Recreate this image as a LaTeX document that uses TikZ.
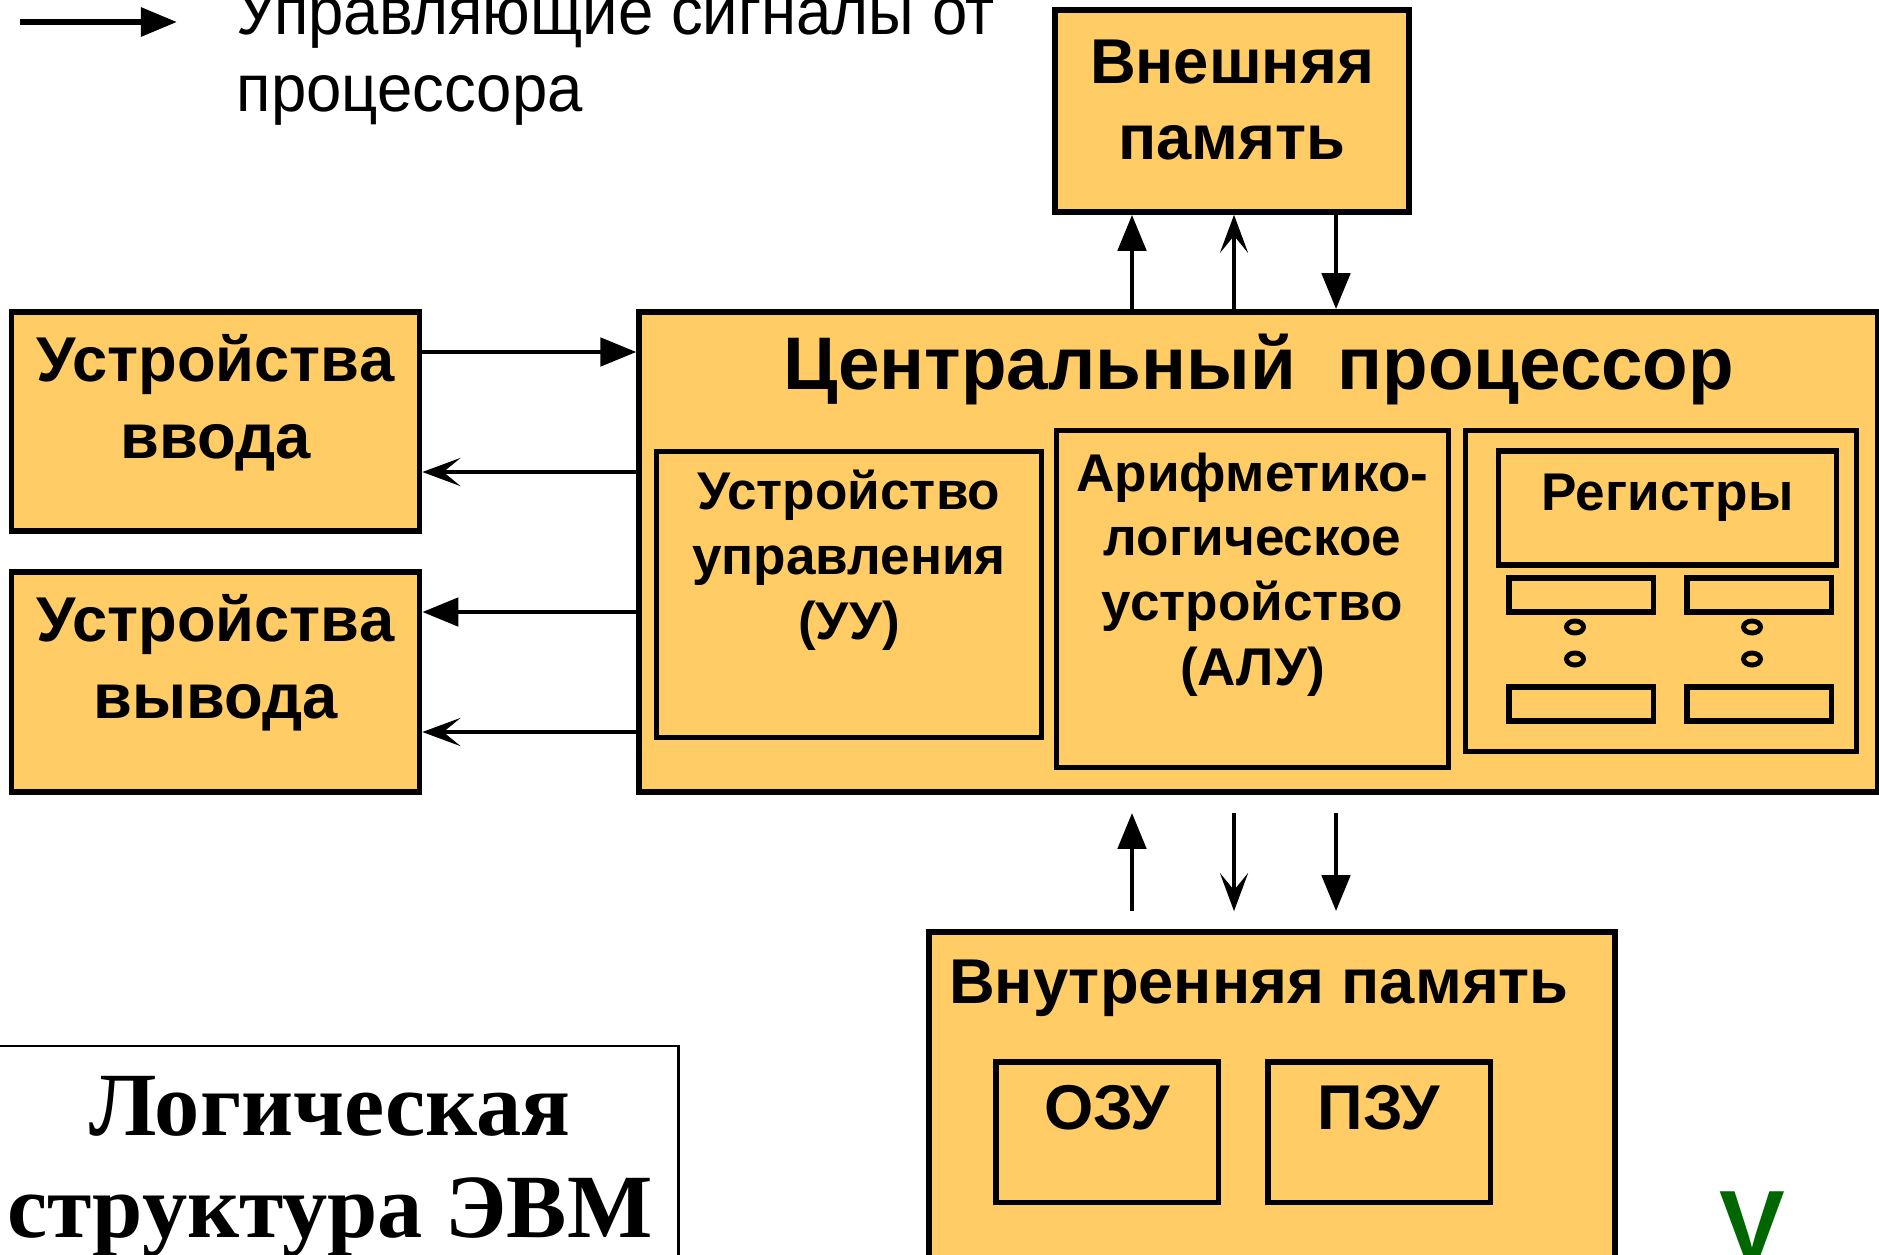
\documentclass[tikz,border=0pt]{standalone}
\usepackage{fontspec}
\setmainfont{Liberation Sans}
\newfontfamily\legfont[FakeStretch=0.95]{Liberation Sans}
\newfontfamily\headfont{Liberation Serif}
\usetikzlibrary{arrows.meta,positioning}

\definecolor{unitfill}{RGB}{255,204,102}
\definecolor{markgreen}{RGB}{0,102,0}

\tikzset{
  unit/.style={draw, line width=1.55pt, fill=unitfill, inner sep=0pt},
  cell/.style={draw, line width=1.45pt, inner sep=0pt},
  bigtxt/.style={font=\bfseries\fontsize{18}{21.8}\selectfont, align=center, inner sep=0pt},
  cputxt/.style={font=\bfseries\fontsize{21.2}{24}\selectfont, inner sep=0pt},
  smalltxt/.style={font=\bfseries\fontsize{15.1}{18.4}\selectfont, align=center, inner sep=0pt},
  sig/.style={line width=1.4pt, -{Triangle[length=0.36cm, width=0.28cm]}},
  dat/.style={line width=1.4pt, -{Stealth[length=0.38cm, width=0.28cm, inset=0.17cm]}},
}

\begin{document}
\begin{tikzpicture}[x=0.01cm, y=-0.01cm]
  \useasboundingbox (0,0) rectangle (1879,1254);

  % Define nodes
  \node[unit, minimum width=3.54cm, minimum height=2.02cm]  (ext) at (1232,111) {};
  \node[unit, minimum width=12.38cm, minimum height=4.80cm] (cpu) at (1258.5,552) {};
  \node[unit, minimum width=4.08cm, minimum height=2.19cm]  (in)  at (215.5,421.5) {};
  \node[unit, minimum width=4.08cm, minimum height=2.20cm]  (out) at (215.5,682) {};
  \node[cell, minimum width=3.84cm, minimum height=2.85cm]  (uu)   at (849,594.5) {};
  \node[cell, minimum width=3.91cm, minimum height=3.36cm]  (alu)  at (1252.5,599) {};
  \node[cell, minimum width=3.90cm, minimum height=3.20cm]  (regs) at (1661,591) {};
  \node[cell, minimum width=3.38cm, minimum height=1.14cm]  (rname) at (1667.5,508) {};
  \node[cell, minimum width=1.44cm, minimum height=0.34cm]  (r1) at (1581,595) {};
  \node[cell, minimum width=1.44cm, minimum height=0.34cm]  (r2) at (1759,595) {};
  \node[cell, minimum width=1.44cm, minimum height=0.34cm]  (r3) at (1581,704) {};
  \node[cell, minimum width=1.44cm, minimum height=0.34cm]  (r4) at (1759,704) {};
  \node[unit, minimum width=6.86cm, minimum height=3.40cm]  (mem) at (1272,1102) {};
  \node[cell, minimum width=2.22cm, minimum height=1.40cm]  (ozu) at (1107,1132) {};
  \node[cell, minimum width=2.22cm, minimum height=1.40cm]  (pzu) at (1379,1132) {};

  % register dots
  \foreach \dx in {1575,1752}
    \foreach \dy in {627,659}
      \draw[line width=1.4pt] (\dx,\dy) ellipse (0.085cm and 0.06cm);

  % Labels
  \node[bigtxt] (extlbl) at ([yshift=0.11cm]ext.center) {Внешняя\\память};
  \node[cputxt] (cpulbl) at ([yshift=-0.60cm]cpu.north) {Центральный\ \ процессор};
  \node[bigtxt] (inlbl)  at ([yshift=0.19cm]in.center)  {Устройства\\ввода};
  \node[bigtxt] (outlbl) at ([yshift=0.19cm]out.center) {Устройства\\вывода};
  \node[smalltxt] (uulbl)  at ([yshift=-1.11cm]uu.north)  {Устройство\\управления\\(УУ)};
  \node[smalltxt] (alulbl) at ([yshift=-1.46cm]alu.north) {Арифметико-\\логическое\\устройство\\(АЛУ)};
  \node[smalltxt] (rlbl)   at ([yshift=0.10cm]rname.center) {Регистры};
  \node[bigtxt] (memlbl) at (1259,988) {Внутренняя память};
  \node[bigtxt] (ozulbl) at ([yshift=0.24cm]ozu.center) {ОЗУ};
  \node[bigtxt] (pzulbl) at ([yshift=0.24cm]pzu.center) {ПЗУ};

  % Legend
  \coordinate (lg1) at (20,22);
  \coordinate (lg2) at (177,22);
  \node[anchor=north west, align=left, inner sep=0pt,
        font=\legfont\fontsize{19}{21.9}\selectfont] (leg) at (236,-12)
        {Управляющие сигналы от\\процессора};

  % Title
  \node[draw, line width=0.6pt, minimum width=6.82cm, minimum height=2.3cm,
        anchor=north west, inner sep=0pt] (tbox) at (-5,1045) {};
  \node[font=\headfont\bfseries\fontsize{25.7}{29}\selectfont, align=center,
        inner sep=0pt] (tlbl) at (330,1167) {Логическая\\структура ЭВМ};
  \node[font=\bfseries\fontsize{28}{30}\selectfont, text=markgreen,
        anchor=base, inner sep=0pt] (mark) at (1752,1259) {V};

  % Connect the nodes
  \draw[sig, line width=1.7pt] (lg1) -- (lg2);
  \draw[sig] (in.east |- 0,352) -- (cpu.west |- 0,352);
  \draw[dat] (cpu.west |- 0,472) -- (in.east |- 0,472);
  \draw[sig] (cpu.west |- 0,612) -- (out.east |- 0,612);
  \draw[dat] (cpu.west |- 0,732) -- (out.east |- 0,732);
  \draw[sig] (cpu.north -| 1132,0) -- (ext.south -| 1132,0);
  \draw[dat] (cpu.north -| 1234,0) -- (ext.south -| 1234,0);
  \draw[sig] (ext.south -| 1336,0) -- (cpu.north -| 1336,0);
  \draw[sig, shorten <=0.18cm, shorten >=0.18cm] (mem.north -| 1132,0) -- (cpu.south -| 1132,0);
  \draw[dat, shorten <=0.18cm, shorten >=0.18cm] (cpu.south -| 1234,0) -- (mem.north -| 1234,0);
  \draw[sig, shorten <=0.18cm, shorten >=0.18cm] (cpu.south -| 1336,0) -- (mem.north -| 1336,0);
\end{tikzpicture}
\end{document}
